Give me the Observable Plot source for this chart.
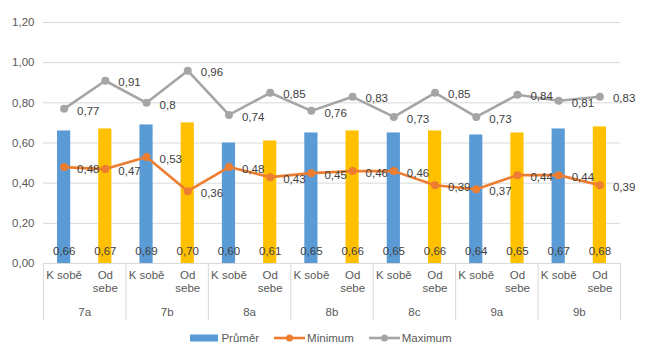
<!DOCTYPE html>
<html><head><meta charset="utf-8">
<script src="https://cdn.jsdelivr.net/npm/d3@7"></script>
<script src="https://cdn.jsdelivr.net/npm/@observablehq/plot@0.6"></script>
<style>
body{margin:0;background:#fff;font-family:"Liberation Sans",Arial,sans-serif;}
#legend{display:flex;justify-content:center;align-items:center;height:25px;font-size:11.5px;color:#595959;padding-right:7px}
#legend .it{display:flex;align-items:center;margin-right:15px}
#legend .it:last-child{margin-right:0}
#legend svg{margin-right:2px}
</style></head>
<body><div id="chart"></div>
<div id="legend"></div>
<script>
const groups = ["7a","7b","8a","8b","8c","9a","9b"];
const subcats = ["K sobě","Od sebe"];
const prumer  = [0.66,0.67,0.69,0.70,0.60,0.61,0.65,0.66,0.65,0.66,0.64,0.65,0.67,0.68];
const minimum = [0.48,0.47,0.53,0.36,0.48,0.43,0.45,0.46,0.46,0.39,0.37,0.44,0.44,0.39];
const maximum = [0.77,0.91,0.80,0.96,0.74,0.85,0.76,0.83,0.73,0.85,0.73,0.84,0.81,0.83];
const yTicks = [0,0.2,0.4,0.6,0.8,1.0,1.2];
const seriesNames = ["Průměr","Minimum","Maximum"];
const colors = {kSobe:"#5B9BD5", odSebe:"#FFC000", min:"#ED7D31", max:"#A5A5A5"};

const data = prumer.map((p,i)=>({
  i, group: groups[Math.floor(i/2)], sub: subcats[i%2],
  prumer: p, minimum: minimum[i], maximum: maximum[i]
}));
const comma = v => String(v).replace(".", ",");
const fix2 = v => v.toFixed(2).replace(".", ",");
const fs = 11.5;
const txt = "#404040";

const chart = Plot.plot({
  width: 649, height: 325,
  marginLeft: 43, marginRight: 29, marginTop: 22, marginBottom: 62,
  style: {fontFamily: '"Liberation Sans", Arial, sans-serif', fontSize: fs+"px", background:"#fff"},
  x: {type:"linear", domain:[-0.5, 13.5], axis:null},
  y: {domain:[0,1.2], axis:null},
  marks: [
    Plot.ruleY(yTicks, {stroke:"#D9D9D9", strokeWidth:1}),
    Plot.text(yTicks, {x:-0.5, y:d=>d, text:fix2, textAnchor:"end", dx:-9, fill:"#595959", fontSize:fs}),
    Plot.ruleX(d3.range(groups.length+1).map(g=>2*g-0.5), {y1:0, y2:-0.285, stroke:"#D9D9D9"}),
    Plot.rectY(data, {x1:d=>d.i-0.16, x2:d=>d.i+0.16, y:"prumer",
      fill:d=>d.sub===subcats[0]?colors.kSobe:colors.odSebe}),
    Plot.line(data, {x:"i", y:"minimum", stroke:colors.min, strokeWidth:2.6}),
    Plot.dot(data, {x:"i", y:"minimum", r:4, fill:colors.min}),
    Plot.line(data, {x:"i", y:"maximum", stroke:colors.max, strokeWidth:2.6}),
    Plot.dot(data, {x:"i", y:"maximum", r:4, fill:colors.max}),
    Plot.text(data, {x:"i", y:0, text:d=>fix2(d.prumer), dy:-12, fill:txt, fontSize:fs}),
    Plot.text(data, {x:"i", y:"minimum", text:d=>comma(d.minimum), textAnchor:"start", dx:13, dy:2, fill:txt, fontSize:fs}),
    Plot.text(data, {x:"i", y:"maximum", text:d=>comma(d.maximum), textAnchor:"start", dx:13, dy:2, fill:txt, fontSize:fs}),
    Plot.text(data, {x:"i", y:0, text:d=>d.sub==="Od sebe"?"Od\nsebe":d.sub, lineAnchor:"top", lineHeight:1.1, dy:7, fill:"#595959", fontSize:fs}),
    Plot.text(groups, {x:(d,g)=>2*g+0.5, y:0, text:d=>d, dy:49, fill:"#595959", fontSize:fs})
  ]
});
document.getElementById("chart").append(chart);

const leg = document.getElementById("legend");
const sw = [
  `<svg width="28" height="10" style="margin-right:3px"><rect x="0" y="1.5" width="28" height="7" fill="${colors.kSobe}"/></svg>`,
  `<svg width="31" height="10"><line x1="0" x2="31" y1="5" y2="5" stroke="${colors.min}" stroke-width="2.6"/><circle cx="15.5" cy="5" r="3.5" fill="${colors.min}"/></svg>`,
  `<svg width="31" height="10"><line x1="0" x2="31" y1="5" y2="5" stroke="${colors.max}" stroke-width="2.6"/><circle cx="15.5" cy="5" r="3.5" fill="${colors.max}"/></svg>`
];
seriesNames.forEach((n,k)=>{
  const d = document.createElement("div"); d.className="it";
  d.innerHTML = sw[k] + `<span>${n}</span>`;
  leg.append(d);
});
</script></body></html>
